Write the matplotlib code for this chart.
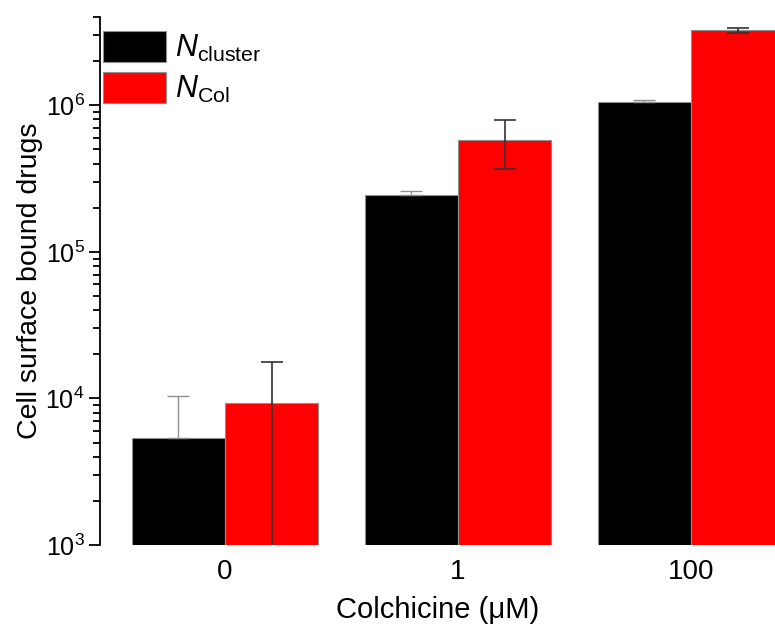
import numpy as np
import matplotlib
matplotlib.use("Agg")
import matplotlib.pyplot as plt

plt.rcParams["font.family"] = ["Liberation Sans", "DejaVu Sans"]
plt.rcParams["mathtext.fontset"] = "custom"
plt.rcParams["mathtext.rm"] = "Liberation Sans"
plt.rcParams["mathtext.it"] = "Liberation Sans:italic"

# Data
concentrations = ["0", "1", "100"]
n_cluster = [5.35e3, 2.45e5, 1.045e6]
n_cluster_err = [5.0e3, 1.6e4, 3.5e4]
n_col = [9.36e3, 5.79e5, 3.24e6]
n_col_err = [8.4e3, 2.1e5, 1.4e5]

x = np.arange(len(concentrations))
width = 0.4

fig = plt.figure(figsize=(7.75, 6.26), dpi=100)
ax = fig.add_axes([100 / 775, 81 / 626, 675 / 775, 528 / 626])

ax.bar(x - width / 2, n_cluster, width, color="black", edgecolor="#909090",
       linewidth=0.8, label=r"$N_{\mathrm{cluster}}$")
ax.bar(x + width / 2, n_col, width, color="#ff0000", edgecolor="#909090",
       linewidth=0.8, label=r"$N_{\mathrm{Col}}$")

ax.errorbar(x - width / 2, n_cluster, yerr=[np.zeros(3), n_cluster_err],
            fmt="none", ecolor="#909090", elinewidth=1, capsize=8, capthick=1)
ax.errorbar(x + width / 2, n_col, yerr=n_col_err,
            fmt="none", ecolor="#333333", elinewidth=1.2, capsize=8, capthick=1.2)

ax.set_yscale("log")
ax.set_ylim(1e3, 4e6)
ax.set_xlim(-0.536, 2.36)

ax.set_xticks(x)
ax.set_xticklabels(concentrations, fontsize=20)
ax.tick_params(axis="x", length=0, pad=10)
ax.tick_params(axis="y", which="major", direction="out", length=8, width=1.3,
               labelsize=18, pad=3)
ax.tick_params(axis="y", which="minor", direction="out", length=5, width=1.3)

for side in ["top", "right", "bottom"]:
    ax.spines[side].set_visible(False)
ax.spines["left"].set_linewidth(1.3)

ax.set_xlabel("Colchicine (μM)", fontsize=21, labelpad=8)
ax.set_ylabel("Cell surface bound drugs", fontsize=20.5, labelpad=2)

ax.legend(loc="upper left", bbox_to_anchor=(0.0044, 0.9735), frameon=False,
          fontsize=22, handlelength=2.06, handleheight=1.2,
          handletextpad=0.3, labelspacing=0.25, borderpad=0, borderaxespad=0)

fig.savefig("out.png", dpi=100)
